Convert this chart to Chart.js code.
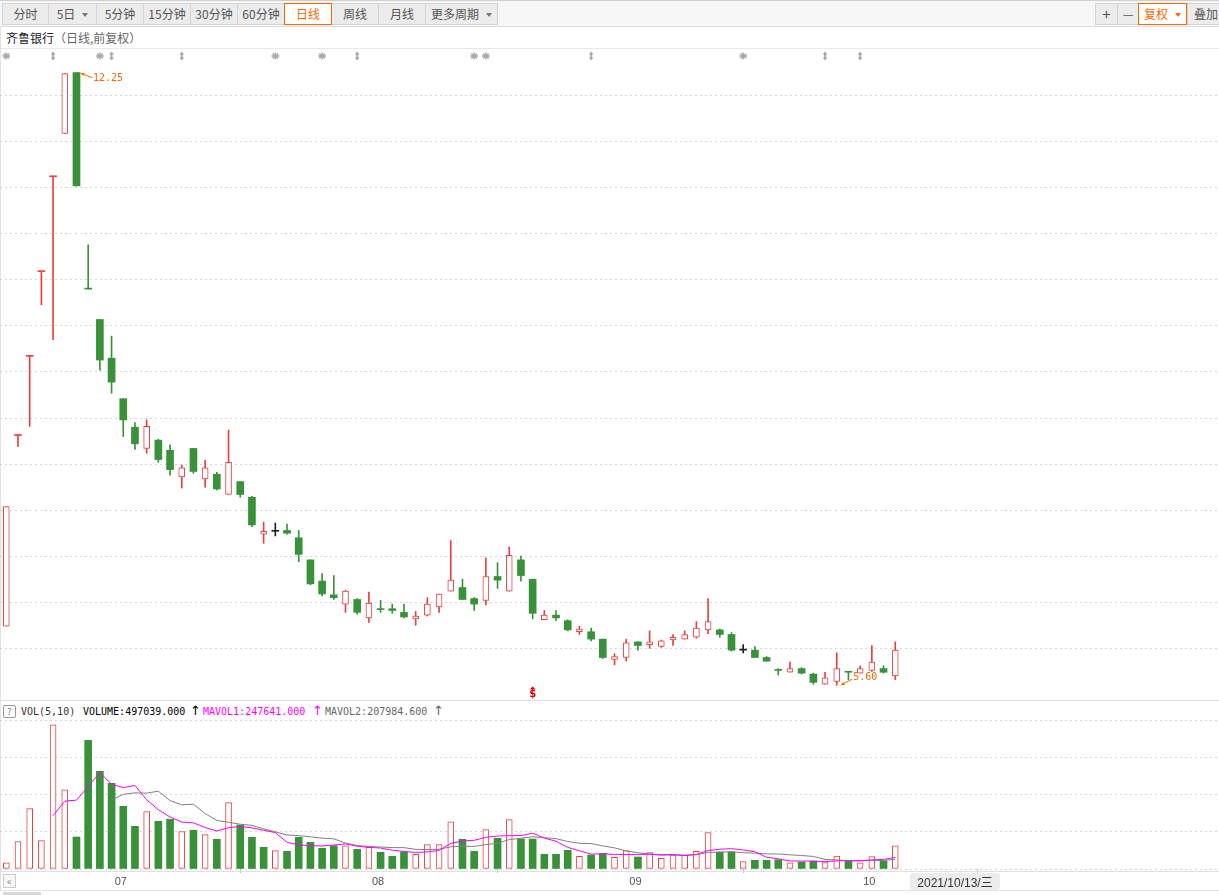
<!DOCTYPE html>
<html lang="zh-CN">
<head>
<meta charset="UTF-8">
<title>齐鲁银行 日线</title>
<script src="https://cdn.jsdelivr.net/npm/chart.js@4.4.1/dist/chart.umd.min.js"></script>
<style>
  html, body { margin: 0; padding: 0; }
  body { width: 1219px; height: 895px; overflow: hidden; position: relative; background: #fff;
         font-family: "Noto Sans CJK SC", "Noto Sans", sans-serif; color: #333; }
  .abs { position: absolute; }
  #toolbar { left: 0; top: 0; width: 1219px; height: 27px; background: #f7f7f7; border-top: 1px solid #d0d0d0; border-bottom: 1px solid #dedede; box-sizing: border-box; }
  .btn { position: absolute; top: 2px; height: 22px; box-sizing: border-box; border: 1px solid #d4d4d4; background: #ececec;
         color: #555; font-size: 12px; line-height: 20px; text-align: center; white-space: nowrap; }
  .btn.on { background: #fff; border-color: #ff6600; color: #ff6600; z-index: 2; }
  .caret { display: inline-block; width: 0; height: 0; border-left: 3px solid transparent; border-right: 3px solid transparent;
           border-top: 4px solid #777; vertical-align: middle; margin-left: 7px; margin-top: -2px; }
  .btn.on .caret { border-top-color: #ff6600; }
  #title { left: 6px; top: 29px; font-size: 12px; line-height: 18px; color: #222; }
  #title span { color: #666; }
  .mono { font-family: "DejaVu Sans Mono", "Liberation Mono", monospace; font-size: 10px; line-height: 14px; top: 705px; white-space: nowrap; }
  .arr { font-family: "DejaVu Sans", sans-serif; font-size: 13px; line-height: 14px; top: 704px; }
  canvas { position: absolute; left: 0; }
</style>
</head>
<body>
  <!-- toolbar -->
  <div id="toolbar" class="abs">
    <div class="btn" style="left:2px;width:47px">分时</div>
    <div class="btn" style="left:48px;width:49px">5日<i class="caret"></i></div>
    <div class="btn" style="left:96px;width:48px">5分钟</div>
    <div class="btn" style="left:143px;width:48px">15分钟</div>
    <div class="btn" style="left:190px;width:48px">30分钟</div>
    <div class="btn" style="left:237px;width:48px">60分钟</div>
    <div class="btn on" style="left:284px;width:48px">日线</div>
    <div class="btn" style="left:331px;width:48px">周线</div>
    <div class="btn" style="left:378px;width:48px">月线</div>
    <div class="btn" style="left:425px;width:73px">更多周期<i class="caret"></i></div>

    <div class="btn" style="left:1095px;width:23px;font-size:15px">+</div>
    <div class="btn" style="left:1117px;width:22px">—</div>
    <div class="btn on" style="left:1138px;width:49px">复权<i class="caret"></i></div>
    <div class="btn" style="left:1187px;width:44px;text-align:left;padding-left:6px">叠加</div>
  </div>

  <div id="title" class="abs">齐鲁银行<span>（日线,前复权）</span></div>
  <div class="abs" style="left:0;top:48px;width:1219px;height:1px;background:#e9e9e9"></div>
  <div class="abs" style="left:0;top:27px;width:1px;height:863px;background:#e2e2e2"></div>

  <canvas id="priceChart" width="1219" height="651" style="top:49px"></canvas>

  <!-- volume header -->
  <div class="abs" style="left:0;top:700px;width:1219px;height:1px;background:#dedede"></div>
  <div class="abs" style="left:3px;top:705px;width:13px;height:13px;box-sizing:border-box;border:1px solid #999;border-radius:2px;font-size:9px;line-height:11px;text-align:center;color:#777">?</div>
  <div class="abs mono" style="left:21px;color:#333">VOL(5,10)</div>
  <div class="abs mono" style="left:83px;color:#000">VOLUME:497039.000</div>
  <div class="abs arr" style="left:190px;color:#000">↑</div>
  <div class="abs mono" style="left:203px;color:#ff00ff">MAVOL1:247641.000</div>
  <div class="abs arr" style="left:312px;color:#ff00ff">↑</div>
  <div class="abs mono" style="left:325px;color:#666">MAVOL2:207984.600</div>
  <div class="abs arr" style="left:433px;color:#666">↑</div>

  <canvas id="volChart" width="1219" height="175" style="top:720px"></canvas>

  <!-- bottom strip -->
  <div class="abs" style="left:0;top:871px;width:1219px;height:1px;background:#e0e0e0"></div>
  <div class="abs" style="left:3px;top:874px;width:13px;height:14px;box-sizing:border-box;border:1px solid #ccc;background:#f7f7f7;font-size:10px;line-height:11px;text-align:center;color:#888">«</div>
  <div class="abs" style="left:910px;top:873px;width:90px;height:17px;background:#ececec;border-radius:3px;font-family:'Liberation Sans',sans-serif;font-size:12px;line-height:17px;text-align:center;color:#333">2021/10/13/<span style="font-family:'Noto Sans CJK SC'">三</span></div>
  <div class="abs" style="left:0;top:890px;width:1219px;height:1px;background:#e4e4e4"></div>
  <div class="abs" style="left:3px;top:892px;width:38px;height:3px;background:#d8d8d8"></div>

<script>
// trading days per month (2021)
const tradeDays = {
  '2021/06': [18, 21, 22, 23, 24, 25, 28, 29, 30],
  '2021/07': [1, 2, 5, 6, 7, 8, 9, 12, 13, 14, 15, 16, 19, 20, 21, 22, 23, 26, 27, 28, 29, 30],
  '2021/08': [2, 3, 4, 5, 6, 9, 10, 11, 12, 13, 16, 17, 18, 19, 20, 23, 24, 25, 26, 27, 30, 31],
  '2021/09': [1, 2, 3, 6, 7, 8, 9, 10, 13, 14, 15, 16, 17, 22, 23, 24, 27, 28, 29, 30],
  '2021/10': [8, 11, 12, 13]
};
const dates = [];
Object.keys(tradeDays).forEach(m => tradeDays[m].forEach(d => dates.push(m + '/' + String(d).padStart(2, '0'))));

const open = [6.24, 8.31, 9.17, 10.09, 11.12, 11.59, 12.25, 9.90, 9.57, 9.15,
  8.71, 8.40, 8.17, 8.26, 8.15, 7.86, 8.17, 7.84, 7.89, 7.67,
  7.81, 7.64, 7.24, 7.27, 7.28, 7.20, 6.96, 6.73, 6.58, 6.48,
  6.53, 6.33, 6.42, 6.43, 6.39, 6.32, 6.36, 6.45, 6.62, 6.66,
  6.54, 6.52, 6.78, 6.62, 6.96, 6.75, 6.31, 6.36, 6.30, 6.18,
  6.18, 6.10, 5.88, 5.90, 6.07, 6.04, 6.02, 6.09, 6.10, 6.12,
  6.20, 6.20, 6.15, 5.98, 5.98, 5.90, 5.76, 5.74, 5.78, 5.72,
  5.61, 5.64, 5.74, 5.73, 5.76, 5.78, 5.70];
const high = [7.54, 8.31, 9.17, 10.09, 11.12, 12.24, 12.25, 10.38, 9.57, 9.39,
  8.71, 8.45, 8.48, 8.27, 8.21, 7.99, 8.17, 8.04, 7.91, 8.37,
  7.81, 7.65, 7.37, 7.36, 7.35, 7.28, 6.96, 6.81, 6.79, 6.63,
  6.54, 6.61, 6.52, 6.48, 6.48, 6.40, 6.55, 6.59, 7.17, 6.75,
  6.55, 6.98, 6.93, 7.10, 7.00, 6.75, 6.41, 6.41, 6.31, 6.24,
  6.22, 6.10, 5.94, 6.10, 6.07, 6.19, 6.09, 6.15, 6.19, 6.29,
  6.54, 6.21, 6.17, 6.04, 6.02, 5.91, 5.78, 5.85, 5.79, 5.73,
  5.74, 5.95, 5.74, 5.81, 6.03, 5.81, 6.07];
const low = [6.24, 8.19, 8.41, 9.73, 9.35, 11.59, 11.02, 9.90, 9.02, 8.77,
  8.30, 8.16, 8.12, 8.02, 7.88, 7.74, 7.90, 7.75, 7.72, 7.67,
  7.64, 7.32, 7.14, 7.22, 7.24, 6.94, 6.69, 6.57, 6.53, 6.39,
  6.37, 6.28, 6.39, 6.38, 6.33, 6.25, 6.35, 6.39, 6.62, 6.53,
  6.41, 6.47, 6.65, 6.62, 6.73, 6.32, 6.31, 6.30, 6.19, 6.15,
  6.08, 5.89, 5.82, 5.86, 5.98, 6.00, 6.01, 6.03, 6.10, 6.11,
  6.16, 6.12, 5.97, 5.95, 5.90, 5.86, 5.71, 5.74, 5.72, 5.61,
  5.61, 5.60, 5.66, 5.73, 5.75, 5.73, 5.66];
const close = [7.54, 8.31, 9.17, 10.09, 11.12, 12.24, 11.02, 9.90, 9.13, 8.89,
  8.48, 8.22, 8.41, 8.05, 7.94, 7.96, 7.92, 7.96, 7.73, 8.02,
  7.67, 7.34, 7.27, 7.27, 7.25, 7.02, 6.70, 6.59, 6.55, 6.62,
  6.39, 6.49, 6.42, 6.41, 6.34, 6.35, 6.48, 6.59, 6.74, 6.53,
  6.48, 6.78, 6.74, 7.01, 6.79, 6.38, 6.36, 6.33, 6.20, 6.21,
  6.10, 5.90, 5.91, 6.06, 6.03, 6.07, 6.08, 6.12, 6.15, 6.22,
  6.29, 6.15, 5.98, 5.98, 5.90, 5.86, 5.76, 5.78, 5.73, 5.63,
  5.68, 5.78, 5.74, 5.78, 5.85, 5.74, 5.98];
const volume = [134000, 583000, 1287000, 604000, 3079000, 1692000, 683000, 2746000, 2085000, 1829000,
  1338000, 911000, 1223000, 1018000, 1061000, 796000, 826000, 732000, 634000, 1415000,
  939000, 676000, 463000, 391000, 378000, 676000, 570000, 442000, 497000, 497000,
  420000, 463000, 356000, 271000, 363000, 314000, 519000, 519000, 1009000, 634000,
  378000, 839000, 655000, 1052000, 640000, 640000, 314000, 314000, 399000, 271000,
  299000, 335000, 250000, 391000, 256000, 348000, 228000, 299000, 292000, 378000,
  775000, 363000, 363000, 156000, 186000, 186000, 198000, 130000, 149000, 170000,
  135000, 275000, 171000, 134000, 265000, 171000, 497039];

// event markers above the candles and the dividend day
const starEvents = [0, 8, 23, 27, 40, 41, 63];
const arrowEvents = [4, 9, 15, 30, 50, 70, 73];
const dividendDays = [45];

// price grid levels, volume grid step
const priceLevels = [6.0, 6.5, 7.0, 7.5, 8.0, 8.5, 9.0, 9.5, 10.0, 10.5, 11.0, 11.5, 12.0];
const volStep = 768240;

const RED = '#e84040';
const GREEN = '#399239';
const BLACK = '#222';
const ORANGE = '#ff6600';
const GRID = '#d4d4d4';

// colours: body by close/open, flat bodies by previous close
const candleColor = close.map((c, i) => {
  if (c > open[i]) return RED;
  if (c < open[i]) return GREEN;
  const prev = i > 0 ? close[i - 1] : c;
  return c > prev ? RED : (c < prev ? GREEN : BLACK);
});
const volUp = close.map((c, i) => i === 0 || c >= close[i - 1]);

const idx = dates.map((d, i) => i);
const upBodies = idx.filter(i => close[i] > open[i]).map(i => ({x: i, y: [open[i], close[i]]}));
const downBodies = idx.filter(i => close[i] < open[i]).map(i => ({x: i, y: [open[i], close[i]]}));
const flatIdx = idx.filter(i => close[i] === open[i]);
const flatBodies = flatIdx.map(i => ({x: i, y: [open[i], close[i]]}));
const wicks = idx.map(i => ({x: i, y: [low[i], high[i]]}));

function movingAvg(arr, n) {
  const out = [];
  for (let i = n - 1; i < arr.length; i++) {
    let s = 0;
    for (let k = i - n + 1; k <= i; k++) s += arr[k];
    out.push({x: i, y: s / n});
  }
  return out;
}

// x mapping shared by both panels
const X_MIN = -0.5386, X_MAX = 103.68;

Chart.defaults.font.family = '"Liberation Sans", "Noto Sans CJK SC", sans-serif';

function drawStar(ctx, cx, cy) {
  ctx.beginPath();
  for (let k = 0; k < 4; k++) {
    const a = k * Math.PI / 4;
    ctx.moveTo(cx - 4 * Math.cos(a), cy - 3.5 * Math.sin(a));
    ctx.lineTo(cx + 4 * Math.cos(a), cy + 3.5 * Math.sin(a));
  }
  ctx.stroke();
}
function drawUpDown(ctx, cx, cy) {
  ctx.beginPath();
  ctx.moveTo(cx, cy - 4.5); ctx.lineTo(cx + 2.5, cy - 1.5); ctx.lineTo(cx - 2.5, cy - 1.5); ctx.closePath();
  ctx.moveTo(cx, cy + 4.5); ctx.lineTo(cx + 2.5, cy + 1.5); ctx.lineTo(cx - 2.5, cy + 1.5); ctx.closePath();
  ctx.fill();
  ctx.fillRect(cx - 1, cy - 2, 2, 4);
}

const priceMarks = {
  id: 'priceMarks',
  afterDatasetsDraw(chart) {
    const {ctx, scales: {x, y}} = chart;
    ctx.save();
    ctx.strokeStyle = '#aaa';
    ctx.fillStyle = '#aaa';
    ctx.lineWidth = 1.5;
    starEvents.forEach(i => drawStar(ctx, x.getPixelForValue(i), 7));
    arrowEvents.forEach(i => drawUpDown(ctx, x.getPixelForValue(i), 7));

    // highest / lowest labels
    ctx.font = '10px "DejaVu Sans Mono", monospace';
    ctx.textBaseline = 'middle';
    ctx.textAlign = 'left';
    ctx.strokeStyle = ORANGE;
    ctx.fillStyle = ORANGE;
    ctx.lineWidth = 1;

    const hi = high.indexOf(Math.max(...high));
    let px = x.getPixelForValue(hi) + 3.5, py = y.getPixelForValue(high[hi]);
    ctx.beginPath(); ctx.moveTo(px, py); ctx.lineTo(px + 5, py + 0.5); ctx.lineTo(px + 3, py + 3); ctx.closePath(); ctx.fill();
    ctx.beginPath(); ctx.moveTo(px + 3, py + 1.5); ctx.lineTo(px + 12, py + 5); ctx.stroke();
    ctx.fillText(high[hi].toFixed(2), px + 13, py + 6);

    const lo = low.indexOf(Math.min(...low));
    px = x.getPixelForValue(lo) + 3.5; py = y.getPixelForValue(low[lo]);
    ctx.beginPath(); ctx.moveTo(px, py); ctx.lineTo(px + 5, py - 0.5); ctx.lineTo(px + 3, py - 3); ctx.closePath(); ctx.fill();
    ctx.beginPath(); ctx.moveTo(px + 3, py - 1.5); ctx.lineTo(px + 12, py - 6); ctx.stroke();
    ctx.fillText(low[lo].toFixed(2), px + 13, py - 8);

    // dividend marker
    ctx.fillStyle = '#e00000';
    ctx.font = 'bold 10px "DejaVu Sans", sans-serif';
    ctx.textAlign = 'center';
    dividendDays.forEach(i => {
      const cx = x.getPixelForValue(i);
      ctx.fillText('$', cx, 645);
      ctx.beginPath(); ctx.moveTo(cx, 637.5); ctx.lineTo(cx + 3, 640.5); ctx.lineTo(cx - 3, 640.5); ctx.closePath(); ctx.fill();
    });
    ctx.restore();
  }
};

const zeroWidth = s => { s.width = 0; };

new Chart(document.getElementById('priceChart'), {
  type: 'bar',
  data: {
    datasets: [
      {label: '影线', data: wicks, backgroundColor: candleColor, borderWidth: 0, barThickness: 1, grouped: false, order: 3},
      {label: '阳线', data: upBodies, backgroundColor: '#fff', borderColor: RED, borderWidth: 1, borderSkipped: false,
       barThickness: 6, grouped: false, order: 2},
      {label: '阴线', data: downBodies, backgroundColor: GREEN, borderWidth: 0, barThickness: 7, grouped: false, order: 2},
      {label: '平盘', data: flatBodies, backgroundColor: flatIdx.map(i => candleColor[i]), borderWidth: 0,
       barThickness: 7, minBarLength: 1, grouped: false, order: 1}
    ]
  },
  options: {
    responsive: false,
    animation: false,
    devicePixelRatio: 1,
    layout: {padding: 0},
    plugins: {legend: {display: false}, tooltip: {enabled: false}},
    scales: {
      x: {type: 'linear', min: X_MIN, max: X_MAX, offset: false, display: false},
      y: {
        type: 'linear', min: 5.4387, max: 12.507,
        afterBuildTicks: s => { s.ticks = priceLevels.map(v => ({value: v})); },
        afterFit: zeroWidth,
        ticks: {display: false},
        grid: {color: GRID, drawTicks: false},
        border: {display: false, dash: [2, 3]}
      }
    }
  },
  plugins: [priceMarks]
});

const monthStarts = idx.filter(i => i > 0 && dates[i].slice(5, 7) !== dates[i - 1].slice(5, 7));

new Chart(document.getElementById('volChart'), {
  type: 'bar',
  data: {
    datasets: [
      {type: 'line', label: 'MAVOL1', data: movingAvg(volume, 5), borderColor: '#ff00ff', borderWidth: 1,
       pointRadius: 0, tension: 0, order: 0},
      {type: 'line', label: 'MAVOL2', data: movingAvg(volume, 10), borderColor: '#808080', borderWidth: 1,
       pointRadius: 0, tension: 0, order: 0},
      {label: '量(涨)', data: idx.filter(i => volUp[i]).map(i => ({x: i, y: volume[i]})), backgroundColor: '#fff',
       borderColor: RED, borderWidth: 1, borderSkipped: false, barThickness: 6, grouped: false, order: 1},
      {label: '量(跌)', data: idx.filter(i => !volUp[i]).map(i => ({x: i, y: volume[i]})), backgroundColor: GREEN,
       borderWidth: 0, barThickness: 7, grouped: false, order: 1}
    ]
  },
  options: {
    responsive: false,
    animation: false,
    devicePixelRatio: 1,
    layout: {padding: 0},
    plugins: {legend: {display: false}, tooltip: {enabled: false}},
    scales: {
      x: {
        type: 'linear', min: X_MIN, max: X_MAX, offset: false,
        afterBuildTicks: s => { s.ticks = monthStarts.map(v => ({value: v})); },
        afterFit: s => { s.height = 26; },
        ticks: {
          autoSkip: false, maxRotation: 0, align: 'start', padding: 2, color: '#555',
          font: {size: 11},
          callback: v => dates[v] ? ' ' + dates[v].slice(5, 7) : ''
        },
        grid: {drawOnChartArea: false, tickLength: 4, color: '#bbb'},
        border: {display: false}
      },
      y: {
        type: 'linear', min: 0, max: 3179660,
        ticks: {display: false, stepSize: volStep},
        afterFit: zeroWidth,
        grid: {color: GRID, drawTicks: false},
        border: {display: false, dash: [2, 3]}
      }
    }
  }
});
</script>
</body>
</html>
